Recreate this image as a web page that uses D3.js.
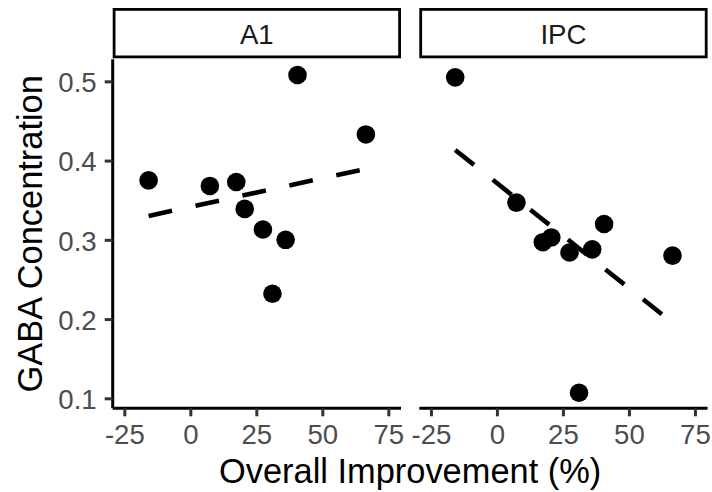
<!DOCTYPE html>
<html>
<head>
<meta charset="utf-8">
<script src="https://cdn.jsdelivr.net/npm/d3@7"></script>
<style>
body{margin:0;background:#fff;}
svg{display:block;font-family:'Liberation Sans',Arial,sans-serif;}
</style>
</head>
<body>
<svg id="chart"></svg>
<script>
// overall improvement (%) - same subjects in both panels
let improvement=[-15.8,7.4,17.4,20.6,27.5,31.1,36.1,40.6,66.5]
let gabaA1=[0.375,0.368,0.373,0.339,0.313,0.232,0.300,0.508,0.433]
let gabaIPC=[0.505,0.347,0.297,0.303,0.284,0.107,0.288,0.320,0.280]
let facets=['A1','IPC']
let xTicks=[-25,0,25,50,75]
let yTicks=[0.1,0.2,0.3,0.4,0.5]

let width=712
let height=492
let panelTop=59.3
let panelBottom=408.3
let panelW=288.3
let panelLefts=[112.7,419.3]
let tickFont=27.6
let titleFont=34.4

let svg=d3.select('#chart').attr('width',width).attr('height',height)

let yScale=d3.scaleLinear()
    .domain([0.0874,0.5278])
    .range([panelBottom,panelTop])

let fitLine=(xs,ys)=>{
    let mx=d3.mean(xs),my=d3.mean(ys)
    let num=d3.sum(xs,(x,i)=>(x-mx)*(ys[i]-my))
    let den=d3.sum(xs,x=>(x-mx)*(x-mx))
    let slope=num/den
    let x0=d3.min(xs),x1=d3.max(xs)
    return [[x0,my+slope*(x0-mx)],[x1,my+slope*(x1-mx)]]
}

let panels=[gabaA1,gabaIPC]

panels.forEach((gaba,p)=>{
    let left=panelLefts[p]
    let xScale=d3.scaleLinear()
        .domain([-29.4,79.8])
        .range([left,left+panelW])

    let pts=improvement.map((x,i)=>({x:x,y:gaba[i]}))

    // strip
    svg.append('rect')
        .attr('x',left+1.4)
        .attr('y',9.4)
        .attr('width',panelW-2.8)
        .attr('height',47.5)
        .attr('fill','white')
        .attr('stroke','black')
        .attr('stroke-width',2.8)
    svg.append('text')
        .attr('x',left+panelW/2)
        .attr('y',43.5)
        .attr('text-anchor','middle')
        .attr('font-size',tickFont)
        .attr('fill','#1A1A1A')
        .text(facets[p])

    // points
    svg.append('g').selectAll('circle')
        .data(pts)
        .enter()
        .append('circle')
        .attr('cx',d=>xScale(d.x))
        .attr('cy',d=>yScale(d.y))
        .attr('r',9.3)
        .attr('fill','black')

    // lm line
    let line=d3.line().x(d=>xScale(d[0])).y(d=>yScale(d[1]))
    svg.append('path')
        .attr('d',line(fitLine(improvement,gaba)))
        .attr('fill','none')
        .attr('stroke','black')
        .attr('stroke-width',4.6)
        .attr('stroke-dasharray','24 24')

    // x axis (plain hyphen for negatives, like R)
    let xAxis=d3.axisBottom(xScale)
        .tickValues(xTicks)
        .tickFormat(d=>String(d))
        .tickSize(8)
        .tickPadding(6)
    let gx=svg.append('g')
        .attr('transform','translate(0,'+panelBottom+')')
        .call(xAxis)
    gx.select('.domain')
        .attr('d','M'+left+',0H'+(left+panelW))
        .attr('stroke','black')
        .attr('stroke-width',3)
    gx.selectAll('.tick line').attr('stroke','#333333').attr('stroke-width',3)
    gx.selectAll('.tick text')
        .attr('font-size',tickFont)
        .attr('font-family',null)
        .attr('fill','#4D4D4D')
        .attr('dy',null)
        .attr('y',35.8)

    if(p==0){
        let yAxis=d3.axisLeft(yScale)
            .tickValues(yTicks)
            .tickFormat(d3.format('.1f'))
            .tickSize(8)
            .tickPadding(8)
        let gy=svg.append('g')
            .attr('transform','translate('+left+',0)')
            .call(yAxis)
        gy.select('.domain')
            .attr('d','M0,'+panelTop+'V'+panelBottom)
            .attr('stroke','black')
            .attr('stroke-width',3)
        gy.selectAll('.tick line').attr('stroke','#333333').attr('stroke-width',3)
        gy.selectAll('.tick text')
            .attr('font-size',tickFont)
            .attr('font-family',null)
            .attr('fill','#4D4D4D')
            .attr('x',-16)
            .attr('dy','0.37em')
    }
})

// axis titles
svg.append('text')
    .attr('x',(panelLefts[0]+panelLefts[1]+panelW)/2)
    .attr('y',482.8)
    .attr('text-anchor','middle')
    .attr('font-size',titleFont)
    .attr('fill','black')
    .text('Overall Improvement (%)')

svg.append('text')
    .attr('transform','translate(41.7,'+((panelTop+panelBottom)/2)+') rotate(-90)')
    .attr('text-anchor','middle')
    .attr('font-size',titleFont)
    .attr('fill','black')
    .text('GABA Concentration')
</script>
</body>
</html>
